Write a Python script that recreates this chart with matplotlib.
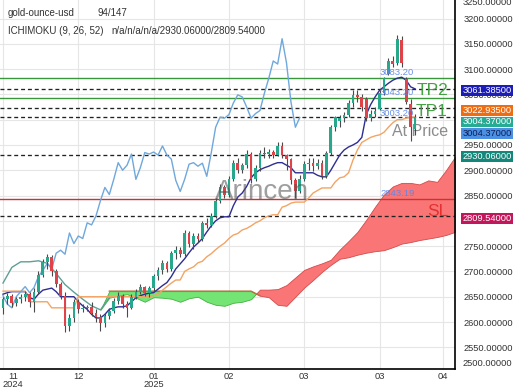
import numpy as np
import matplotlib
matplotlib.use("Agg")
import matplotlib.pyplot as plt
from matplotlib.patches import Rectangle

plt.rcParams['font.family'] = ['Liberation Sans', 'DejaVu Sans']

# ---------------- data ----------------
opens = [2628, 2645, 2652, 2638, 2645, 2650, 2656, 2640, 2660, 2692,
         2718, 2728, 2700, 2675, 2652, 2592, 2608, 2640, 2625, 2628,
         2630, 2618, 2610, 2598, 2612, 2622, 2642, 2652, 2635, 2628,
         2650, 2660, 2670, 2658, 2668, 2690, 2702, 2716, 2705, 2736,
         2742, 2734, 2776, 2755, 2770, 2765, 2796, 2792, 2810, 2840,
         2866, 2852, 2882, 2915, 2900, 2910, 2932, 2882, 2905, 2935,
         2932, 2936, 2930, 2948, 2930, 2922, 2880, 2858, 2882, 2912,
         2915, 2908, 2914, 2888, 2934, 2985, 2998, 3003, 3010, 3033,
         3049, 3045, 3040, 3003, 3012, 3022, 3052, 3090, 3116, 3112,
         3158, 3080, 3030, 2982]
highs = [2650, 2658, 2655, 2650, 2655, 2662, 2660, 2668, 2700, 2725,
         2735, 2732, 2705, 2680, 2660, 2615, 2645, 2645, 2635, 2634,
         2640, 2625, 2615, 2618, 2628, 2648, 2660, 2655, 2642, 2655,
         2665, 2675, 2672, 2672, 2695, 2708, 2722, 2720, 2740, 2750,
         2748, 2782, 2780, 2775, 2775, 2800, 2805, 2815, 2845, 2872,
         2870, 2888, 2920, 2925, 2915, 2940, 2936, 2910, 2940, 2945,
         2942, 2940, 2955, 2956, 2932, 2925, 2885, 2890, 2918, 2925,
         2925, 2922, 2920, 2938, 2990, 3008, 3010, 3015, 3038, 3058,
         3058, 3050, 3045, 3020, 3025, 3058, 3085, 3122, 3125, 3167,
         3166, 3085, 3040, 3012]
lows = [2615, 2635, 2630, 2632, 2638, 2642, 2630, 2620, 2655, 2688,
        2705, 2690, 2670, 2645, 2580, 2582, 2600, 2618, 2620, 2622,
        2612, 2600, 2582, 2590, 2605, 2618, 2636, 2628, 2610, 2625,
        2645, 2655, 2652, 2650, 2662, 2684, 2695, 2698, 2700, 2725,
        2728, 2730, 2748, 2745, 2758, 2760, 2785, 2788, 2805, 2835,
        2845, 2848, 2878, 2895, 2895, 2905, 2875, 2878, 2898, 2925,
        2925, 2925, 2928, 2925, 2900, 2872, 2845, 2855, 2878, 2900,
        2898, 2902, 2882, 2884, 2930, 2978, 2985, 2995, 3005, 3025,
        3035, 3018, 2998, 2998, 3005, 3020, 3048, 3088, 3105, 3108,
        3105, 3030, 2957, 2970]
closes = [2645, 2652, 2638, 2645, 2650, 2656, 2640, 2660, 2692, 2718,
          2728, 2700, 2675, 2652, 2592, 2608, 2640, 2625, 2628, 2630,
          2618, 2610, 2598, 2612, 2622, 2642, 2652, 2635, 2628, 2650,
          2660, 2670, 2658, 2668, 2690, 2702, 2716, 2705, 2736, 2742,
          2734, 2776, 2755, 2770, 2765, 2796, 2792, 2810, 2840, 2866,
          2852, 2882, 2915, 2900, 2910, 2932, 2882, 2905, 2935, 2932,
          2936, 2930, 2948, 2930, 2922, 2880, 2858, 2882, 2912, 2915,
          2908, 2914, 2888, 2934, 2985, 3005, 3003, 3010, 3033, 3049,
          3045, 3025, 3003, 3012, 3018, 3052, 3082, 3116, 3110, 3160,
          3112, 3035, 2985, 3004.37]

tenkan = [2655, 2658, 2660, 2660, 2660, 2660, 2648, 2645, 2655, 2663,
          2665, 2667, 2660, 2650, 2650, 2650, 2650, 2640, 2632, 2625,
          2615, 2608, 2608, 2615, 2625, 2628, 2630, 2630, 2632, 2640,
          2648, 2652, 2655, 2657, 2658, 2665, 2672, 2678, 2690, 2705,
          2715, 2725, 2737, 2748, 2756, 2765, 2778, 2790, 2800, 2806,
          2808, 2808, 2830, 2847, 2855, 2868, 2885, 2895, 2901, 2905,
          2908, 2912, 2915, 2915, 2910, 2905, 2895, 2895, 2895, 2895,
          2895, 2890, 2887, 2887, 2900, 2915, 2930, 2940, 2946, 2950,
          2955, 2965, 3010, 3030, 3045, 3058, 3065, 3072, 3078, 3082,
          3084, 3078, 3065, 3061]
kijun = [2661, 2661, 2661, 2661, 2661, 2661, 2640, 2640, 2640, 2640,
         2640, 2628, 2628, 2628, 2628, 2628, 2628, 2650, 2650, 2650,
         2650, 2650, 2650, 2650, 2650, 2650, 2650, 2650, 2650, 2650,
         2650, 2650, 2650, 2650, 2652, 2655, 2663, 2670, 2677, 2683,
         2683, 2700, 2705, 2709, 2717, 2720, 2729, 2735, 2743, 2750,
         2756, 2765, 2772, 2775, 2782, 2785, 2790, 2796, 2800, 2806,
         2810, 2812, 2812, 2827, 2830, 2835, 2837, 2837, 2837, 2845,
         2855, 2860, 2865, 2865, 2865, 2877, 2885, 2887, 2895, 2920,
         2940, 2955, 2960, 2965, 2968, 2970, 2975, 2985, 2994, 3000,
         3000, 3003, 3005, 3005]

cloud_idx = list(range(0, 104, 2))
span_a = [2677, 2708, 2719, 2719, 2721, 2716, 2696, 2674, 2659, 2645,
          2632, 2624, 2648, 2652, 2655, 2648, 2640, 2649, 2648, 2646,
          2640, 2647, 2650, 2640, 2634, 2632, 2638, 2640, 2645, 2664,
          2664, 2665, 2673, 2688, 2703, 2710, 2716, 2723, 2743, 2760,
          2778, 2802, 2828, 2852, 2868, 2875, 2875, 2872, 2880, 2877,
          2900, 2926]
span_b = [np.nan] * 12 + [2661] * 17 + [
          2652, 2649, 2634, 2632, 2650, 2668, 2683, 2699, 2713, 2725,
          2728, 2733, 2737, 2740, 2742, 2748, 2755, 2758, 2762, 2765,
          2768, 2772, 2778]
chikou_shift = 26

green_levels = [3083.20, 3043.20]
dashed_levels = [3061.385, 3022.935, 3004.37, 2930.06, 2809.54]
red_level = 2843.19
level_labels = [("3083.20", 3083.20), ("3043.20", 3043.20),
                ("3003.20", 3003.20), ("2843.19", 2843.19)]

x_tick_pos = [0, 17, 34, 51, 68, 85, 99.3]
x_tick_labels = ["11\n2024", "12", "01\n2025", "02", "03", "03", "04"]
y_ticks = list(range(2550, 3201, 50))

value_boxes = [("3061.38500", 90.3, "#1c1cb8", "white"),
               ("3022.93500", 110.3, "#ef6d12", "white"),
               ("3004.37000", 122.0, "#26ab94", "white"),
               ("3004.37000", 133.3, "#4b90e2", "#0d1f5c"),
               ("2930.06000", 156.5, "#13877a", "white"),
               ("2809.54000", 218.3, "#c2185b", "white")]

# ---------------- figure ----------------
W, H = 520, 390
fig = plt.figure(figsize=(W / 100, H / 100), dpi=100)
ax = fig.add_axes([0, (H - 369) / H, 455 / W, 369 / H])

PX0, DX = 3.0, 4.43
slope = 600 / 303.5
ax.set_xlim((0 - PX0) / DX, (455 - PX0) / DX)
ax.set_ylim(3200 - (369 - 18.5) * slope, 3200 + 18.5 * slope)

idx = np.arange(len(closes))
o = np.array(opens, float); c = np.array(closes, float)
hi = np.array(highs, float); lo = np.array(lows, float)

# cloud
cx = np.array(cloud_idx, float)
A = np.array(span_a, float); B = np.array(span_b, float)
valid = ~np.isnan(B)
Bf = np.where(valid, B, A)
ax.fill_between(cx, A, Bf, where=valid & (Bf >= A), interpolate=True,
                facecolor="#74e474", edgecolor="#44b044", linewidth=0.6, zorder=1)
ax.fill_between(cx, A, Bf, where=valid & (A > Bf), interpolate=True,
                facecolor="#fa7676", edgecolor="#d24a4a", linewidth=0.6, zorder=1)
ax.plot(cx[:13], A[:13], color="#5f9f97", lw=1.0, zorder=3)
gmask = valid & (cx <= 58)
ax.plot(cx[gmask], B[gmask], color="#b8703c", lw=1.0, zorder=3)

# grid
for yv in y_ticks:
    ax.axhline(yv, color="#e6e6e6", lw=0.8, zorder=0)
for xv in x_tick_pos:
    ax.axvline(xv, color="#e6e6e6", lw=0.8, zorder=0)

# levels
for lv in green_levels:
    ax.axhline(lv, color="#3a963a", lw=1.0, zorder=2)
for lv in dashed_levels:
    ax.axhline(lv, color="#222222", lw=0.95, ls=(0, (3, 2.2)), zorder=2)
ax.axhline(red_level, color="#d03030", lw=1.0, zorder=2)

# big labels on chart
rx = (448 - PX0) / DX
ax.text(rx, 3058, "TP2", color="#3a9e3a", fontsize=12.5, ha="right", va="center", zorder=2.5, alpha=0.95)
ax.text(rx, 3017, "TP1", color="#3a9e3a", fontsize=12.5, ha="right", va="center", zorder=2.5, alpha=0.95)
ax.text(rx, 2977, "At Price", color="#8c8c8c", fontsize=11.5, ha="right", va="center", zorder=2.5)
ax.text(rx, 2819, "SL", color="#e53030", fontsize=12.5, ha="right", va="center", zorder=2.5)

# ichimoku lines
ax.plot(idx, tenkan, color="#2e2e90", lw=1.0, zorder=3)
ax.plot(idx, kijun, color="#f2a464", lw=1.0, zorder=3)
ax.plot(idx[chikou_shift:] - chikou_shift, c[chikou_shift:], color="#6fa8dc", lw=1.0, zorder=3)

# candles
up = c >= o
ax.vlines(idx, lo, hi, color="#4a4a4a", lw=0.8, zorder=4)
body = np.where(np.abs(c - o) < 1.5, 1.5, c - o)
ax.bar(idx[up], body[up], bottom=o[up], width=0.62, color="#27a88c", zorder=4.5)
ax.bar(idx[~up], body[~up], bottom=o[~up], width=0.62, color="#e0424a", zorder=4.5)

# watermark
ax.text((262 - PX0) / DX, 2857, "Arincen", color="#505050", alpha=0.55, fontsize=20,
        ha="center", va="center", zorder=5)

# level value labels
lx = (380 - PX0) / DX
for t, v in level_labels:
    ax.text(lx, v + 1, t, color="#5b86e6", fontsize=6.8, ha="left", va="bottom", zorder=6, alpha=0.9)

# axes styling
for s in ["left", "top"]:
    ax.spines[s].set_visible(False)
for s in ["right", "bottom"]:
    ax.spines[s].set_color("black")
    ax.spines[s].set_linewidth(1.2)
ax.yaxis.tick_right()
ax.set_yticks(y_ticks)
ax.set_yticklabels([f"{v:.5f}" for v in y_ticks])
ax.tick_params(axis="y", length=0, pad=6, labelsize=6.7, labelcolor="#333333")
ax.set_xticks(x_tick_pos)
ax.set_xticklabels(x_tick_labels, linespacing=0.95, multialignment="center")
ax.tick_params(axis="x", length=0, pad=2, labelsize=6.7, labelcolor="#333333")
ax.get_xticklabels()[0].set_horizontalalignment("left")

# clamped edge labels
fig.text(463 / W, 1 - 2.5 / H, "3250.00000", fontsize=6.7, color="#333333", ha="left", va="center")
fig.text(463 / W, 1 - 363.7 / H, "2500.00000", fontsize=6.7, color="#333333", ha="left", va="center")

# value boxes
for t, yc, fc, tc in value_boxes:
    fig.patches.append(Rectangle((461 / W, 1 - (yc + 5.4) / H), 52 / W, 10.8 / H,
                                 transform=fig.transFigure, facecolor=fc, edgecolor="none", zorder=5))
    fig.text(487 / W, 1 - yc / H, t, fontsize=6.7, color=tc, ha="center", va="center", zorder=6)

# header
fig.text(8 / W, 1 - 13 / H, "gold-ounce-usd", fontsize=7, color="#333333", ha="left", va="center")
fig.text(97 / W, 1 - 13 / H, "94/147", fontsize=7, color="#333333", ha="left", va="center")
fig.text(8 / W, 1 - 31 / H, "ICHIMOKU (9, 26, 52)", fontsize=7, color="#333333", ha="left", va="center")
fig.text(111 / W, 1 - 31 / H, "n/a/n/a/n/a/2930.06000/2809.54000", fontsize=7, color="#333333",
         ha="left", va="center")

fig.savefig("out.png", dpi=100, facecolor="white")
